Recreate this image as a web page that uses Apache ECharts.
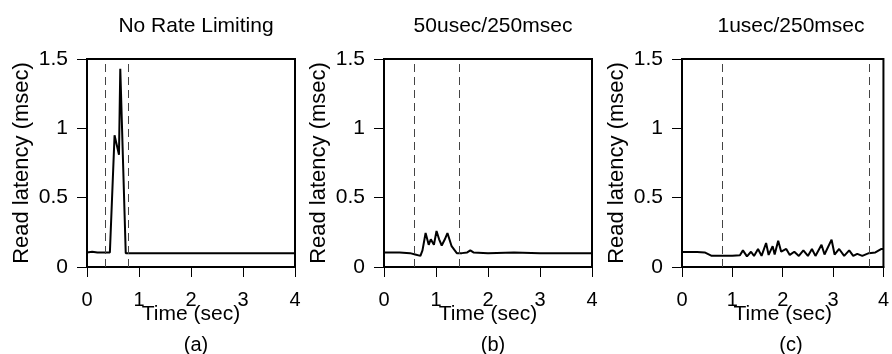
<!DOCTYPE html>
<html>
<head>
<meta charset="utf-8">
<script src="https://cdn.jsdelivr.net/npm/echarts@6/dist/echarts.min.js"></script>
<style>
  html, body { margin: 0; padding: 0; background: #fff; }
  #chart { width: 892px; height: 354px; }
</style>
</head>
<body>
<div id="chart"></div>
<script>
// panel titles and sub labels
const panelTitles = ['No Rate Limiting', '50usec/250msec', '1usec/250msec'];
const panelTags = ['(a)', '(b)', '(c)'];

// axis ticks
const timeTicks = [0, 1, 2, 3, 4];
const latencyTicks = [0, 0.5, 1, 1.5];

// (a) no rate limiting
const timeA = [0, 0.1, 0.2, 0.3, 0.44, 0.53, 0.615, 0.64, 0.745, 1.0, 1.5, 2, 2.5, 3, 3.5, 4];
const latencyA = [0.105, 0.11, 0.105, 0.105, 0.105, 0.95, 0.81, 1.43, 0.1, 0.1, 0.1, 0.1, 0.1, 0.1, 0.1, 0.1];
const markersA = [0.36, 0.8];

// (b) 50usec/250msec
const timeB = [0, 0.3, 0.5, 0.6, 0.7, 0.74, 0.8, 0.86, 0.9, 0.96, 1.01, 1.06, 1.11, 1.17, 1.22, 1.3, 1.4, 1.5, 1.6, 1.66, 1.72, 2, 2.5, 3, 3.5, 4];
const latencyB = [0.105, 0.105, 0.1, 0.09, 0.08, 0.12, 0.245, 0.16, 0.2, 0.16, 0.26, 0.2, 0.155, 0.2, 0.245, 0.15, 0.1, 0.1, 0.105, 0.12, 0.105, 0.1, 0.105, 0.1, 0.1, 0.1];
const markersB = [0.58, 1.44];

// (c) 1usec/250msec
const timeC = [0, 0.3, 0.45, 0.58, 0.8, 1.0, 1.15, 1.21, 1.29, 1.37, 1.43, 1.51, 1.58, 1.67, 1.72, 1.8, 1.84, 1.91, 1.97, 2.07, 2.14, 2.23, 2.32, 2.41, 2.5, 2.58, 2.65, 2.77, 2.83, 2.97, 3.03, 3.12, 3.22, 3.32, 3.4, 3.48, 3.58, 3.71, 3.84, 3.96, 4];
const latencyC = [0.108, 0.108, 0.105, 0.082, 0.082, 0.082, 0.085, 0.12, 0.077, 0.11, 0.08, 0.13, 0.08, 0.173, 0.087, 0.15, 0.09, 0.19, 0.11, 0.13, 0.087, 0.11, 0.08, 0.12, 0.08, 0.13, 0.08, 0.16, 0.09, 0.197, 0.09, 0.13, 0.08, 0.12, 0.08, 0.095, 0.08, 0.1, 0.105, 0.13, 0.13];
const markersC = [0.79, 3.72];

const panels = [
  { time: timeA, latency: latencyA, markers: markersA, left: 87 },
  { time: timeB, latency: latencyB, markers: markersB, left: 384 },
  { time: timeC, latency: latencyC, markers: markersC, left: 682 }
];

const plotW = 208;
const plotTop = 59;
const plotH = 208;
const font = 'Liberation Sans, Arial, sans-serif';

const chart = echarts.init(document.getElementById('chart'));

const titles = [];
panels.forEach((p, i) => {
  const cx = p.left + plotW / 2;
  titles.push({
    text: panelTitles[i], left: cx, top: 11, textAlign: 'center',
    textStyle: { fontFamily: font, fontSize: 21, fontWeight: 'normal', color: '#000' }
  });
  titles.push({
    text: panelTags[i], left: cx, top: 330, textAlign: 'center',
    textStyle: { fontFamily: font, fontSize: 20, fontWeight: 'normal', color: '#000' }
  });
});

const option = {
  animation: false,
  backgroundColor: '#fff',
  title: titles,
  grid: panels.map(p => ({
    left: p.left, top: plotTop, width: plotW, height: plotH,
    show: true, borderColor: '#000', borderWidth: 2, backgroundColor: 'transparent'
  })),
  xAxis: panels.map((p, i) => ({
    type: 'value', gridIndex: i,
    min: timeTicks[0], max: timeTicks[timeTicks.length - 1], interval: 1,
    name: 'Time (sec)', nameLocation: 'middle', nameGap: 37, nameMoveOverlap: false,
    nameTextStyle: { fontFamily: font, fontSize: 21, color: '#000' },
    axisLine: { show: true, lineStyle: { color: '#000', width: 2 } },
    axisTick: { show: true, inside: false, length: 10, lineStyle: { color: '#000', width: 1 } },
    axisLabel: { margin: 23, fontFamily: font, fontSize: 20, color: '#000' },
    splitLine: { show: false }
  })),
  yAxis: panels.map((p, i) => ({
    type: 'value', gridIndex: i,
    min: latencyTicks[0], max: latencyTicks[latencyTicks.length - 1], interval: 0.5,
    name: 'Read latency (msec)', nameLocation: 'middle', nameGap: 54, nameMoveOverlap: false,
    nameTextStyle: { fontFamily: font, fontSize: 22, color: '#000' },
    axisLine: { show: true, lineStyle: { color: '#000', width: 2 } },
    axisTick: { show: true, inside: false, length: 10, lineStyle: { color: '#000', width: 1 } },
    axisLabel: { margin: 19, fontFamily: font, fontSize: 21, color: '#000' },
    splitLine: { show: false }
  })),
  series: panels.map((p, i) => ({
    type: 'line', xAxisIndex: i, yAxisIndex: i,
    data: p.time.map((t, k) => [t, p.latency[k]]),
    showSymbol: false,
    lineStyle: { color: '#000', width: 2 },
    markLine: {
      silent: true, symbol: 'none', label: { show: false },
      lineStyle: { color: '#444', width: 1, type: [8, 5] },
      data: p.markers.map(m => ({ xAxis: m }))
    }
  }))
};

chart.setOption(option);
</script>
</body>
</html>
